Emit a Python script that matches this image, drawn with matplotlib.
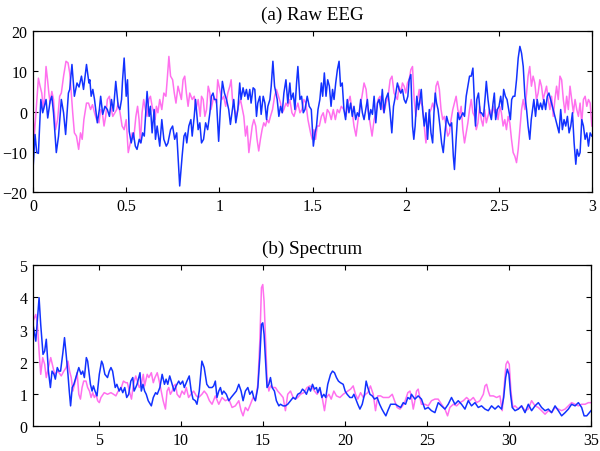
import numpy as np
import matplotlib
matplotlib.use("Agg")
import matplotlib.pyplot as plt

plt.rcParams['font.family'] = ['Liberation Serif', 'DejaVu Serif']
plt.rcParams['font.size'] = 11.5

BLUE = '#1232ff'
PINK = '#ff70ee'

# (a) raw EEG, seconds / microvolts
eeg_t_blue = [
    0.000,0.011,0.020,0.029,0.042,0.052,0.061,0.070,0.079,0.092,
    0.101,0.110,0.125,0.137,0.152,0.164,0.175,0.190,0.197,0.209,
    0.222,0.236,0.247,0.260,0.271,0.287,0.300,0.305,0.312,0.321,
    0.330,0.345,0.356,0.363,0.374,0.386,0.399,0.410,0.421,0.431,
    0.444,0.457,0.466,0.475,0.480,0.489,0.500,0.507,0.516,0.527,
    0.538,0.549,0.558,0.570,0.579,0.588,0.597,0.612,0.623,0.630,
    0.639,0.650,0.657,0.666,0.680,0.691,0.702,0.715,0.724,0.738,
    0.749,0.760,0.771,0.787,0.800,0.810,0.818,0.825,0.836,0.847,
    0.854,0.865,0.872,0.886,0.895,0.904,0.915,0.926,0.937,0.949,
    0.957,0.966,0.973,0.984,0.996,1.005,1.016,1.027,1.038,1.050,
    1.059,1.070,1.077,1.088,1.099,1.109,1.116,1.127,1.136,1.145,
    1.154,1.163,1.170,1.181,1.190,1.199,1.206,1.217,1.224,1.235,
    1.244,1.253,1.260,1.271,1.278,1.287,1.296,1.303,1.310,1.319,
    1.328,1.337,1.346,1.357,1.367,1.378,1.385,1.396,1.405,1.414,
    1.421,1.432,1.441,1.450,1.459,1.471,1.482,1.493,1.504,1.513,
    1.521,1.529,1.539,1.547,1.554,1.563,1.572,1.581,1.590,1.599,
    1.607,1.615,1.624,1.633,1.642,1.650,1.659,1.668,1.677,1.686,
    1.695,1.704,1.713,1.722,1.731,1.740,1.749,1.758,1.767,1.776,
    1.785,1.794,1.803,1.812,1.821,1.830,1.839,1.848,1.857,1.866,
    1.874,1.883,1.892,1.905,1.916,1.925,1.934,1.941,
    1.955,1.964,1.973,1.982,1.991,2.000,2.011,2.018,2.027,2.036,
    2.043,2.050,2.059,2.068,2.076,2.083,2.090,2.099,2.108,2.117,
    2.126,2.135,2.144,2.151,2.158,2.165,2.173,2.183,2.192,2.201,
    2.210,2.219,2.228,2.237,2.246,2.255,2.261,2.270,2.279,2.288,
    2.297,2.306,2.315,2.324,2.333,2.342,2.351,2.360,2.367,2.374,
    2.381,2.390,2.399,2.406,2.417,2.426,2.432,2.441,2.450,2.459,
    2.468,2.475,2.482,2.491,2.500,2.509,2.518,2.525,2.534,2.543,
    2.552,2.561,2.568,2.576,2.585,2.594,2.603,2.612,2.621,2.630,
    2.639,2.648,2.656,2.665,2.673,2.680,2.687,2.696,2.705,2.714,
    2.723,2.732,2.741,2.750,2.759,2.768,2.777,2.786,2.795,2.804,
    2.813,2.822,2.831,2.840,2.849,2.858,2.867,2.876,2.885,2.894,
    2.903,2.912,2.919,2.928,2.935,2.944,2.953,2.962,2.971,2.980,
    2.989,2.998]
eeg_blue = [
    -14.4,-5.7,-10.2,-10.4,3.0,-0.3,1.3,3.0,-1.6,2.6,
    3.8,-0.3,-10.2,-6.1,3.0,-0.3,-5.7,4.6,5.5,11.7,
    3.8,7.1,6.1,8.8,5.5,11.7,7.1,7.9,3.8,5.5,
    3.0,-2.8,0.5,3.8,-0.7,1.3,0.5,-1.2,3.0,0.1,
    7.5,1.3,0.5,3.0,7.5,13.3,3.8,7.9,-4.9,-7.8,
    -5.3,-8.6,-9.4,-6.9,-7.8,-5.3,-6.1,5.0,-1.2,1.3,
    -5.3,0.5,-6.9,-3.6,-8.6,-2.0,-6.9,-8.6,-7.8,-4.5,
    -3.6,-6.9,-5.3,-18.5,-11.1,-6.1,-5.3,-7.8,-3.6,-2.0,
    -6.1,-1.2,3.0,-4.5,-2.8,-7.8,-6.9,-2.8,-4.5,-0.3,
    3.8,4.6,3.0,3.0,-7.4,0.5,7.5,4.6,3.0,0.5,
    -3.2,0.5,3.0,-2.8,0.5,7.1,3.0,5.9,3.8,5.5,
    3.0,5.5,2.1,5.9,5.5,-1.2,2.1,3.8,-0.7,3.8,
    2.1,-2.0,1.3,3.0,6.3,12.5,6.3,4.6,3.0,-1.2,
    1.3,-0.3,4.6,7.9,2.1,7.1,3.0,4.6,0.5,7.1,
    11.2,3.0,3.8,-0.3,0.5,3.8,1.3,0.5,-8.6,-5.3,
    -3.6,0.5,3.0,7.1,3.8,9.6,3.8,7.9,6.3,1.3,
    5.5,3.0,7.1,10.4,12.5,6.3,7.1,0.5,-2.0,3.0,
    -0.3,2.1,-1.2,1.3,-2.0,-0.3,-1.2,3.0,-0.3,-2.0,
    0.5,3.0,-2.0,0.5,-0.7,3.8,-2.8,2.1,3.0,0.5,
    5.5,-0.3,3.0,4.6,-0.3,-5.3,1.3,3.0,
    7.1,5.5,4.6,5.5,3.0,2.1,3.8,7.9,9.2,-3.6,
    -6.9,-3.6,3.8,0.5,3.0,5.5,0.5,-3.6,-0.3,-6.9,
    0.5,-5.3,-7.8,-0.3,4.6,2.1,0.5,-3.6,-7.8,-10.2,
    -5.3,-1.2,-2.8,-3.6,-2.8,-11.1,-14.4,-6.9,-0.3,-2.0,
    -1.2,-0.3,-1.2,3.8,6.3,8.8,8.8,10.8,3.8,-3.6,
    3.0,4.6,-0.3,-0.3,-1.2,3.8,7.5,3.0,-0.3,-2.0,
    2.1,4.6,-2.0,0.5,1.3,3.8,0.5,5.5,3.8,3.0,
    0.5,-2.0,3.0,3.8,3.8,7.9,13.3,16.2,14.5,11.2,
    3.8,0.5,-3.6,-6.9,-2.0,0.5,3.0,-1.2,3.0,0.5,
    2.1,0.5,3.0,0.5,3.8,4.6,3.0,1.3,-0.3,-2.0,
    -3.6,-5.3,0.5,-4.5,-2.0,-3.6,-1.2,-5.3,-3.6,-0.3,
    -7.8,-13.1,-9.4,-11.1,-10.2,-2.0,-3.6,-6.9,-5.3,-8.6,
    -5.3,-6.1]

eeg_t_pink = [
    0.000,0.007,0.029,0.038,0.047,0.056,0.061,0.070,0.078,0.085,
    0.092,0.101,0.110,0.121,0.132,0.143,0.152,0.164,0.177,0.188,
    0.197,0.204,0.213,0.222,0.233,0.245,0.255,0.264,0.273,0.287,
    0.298,0.309,0.319,0.330,0.341,0.354,0.363,0.372,0.381,0.390,
    0.399,0.410,0.417,0.428,0.439,0.449,0.457,0.467,0.478,0.489,
    0.500,0.511,0.522,0.532,0.540,0.552,0.561,0.569,0.576,0.585,
    0.594,0.603,0.612,0.621,0.630,0.639,0.648,0.655,0.662,0.670,
    0.680,0.691,0.702,0.713,0.720,0.729,0.738,0.749,0.758,0.767,
    0.778,0.787,0.796,0.805,0.814,0.823,0.832,0.841,0.854,0.865,
    0.874,0.886,0.897,0.904,0.913,0.922,0.931,0.940,0.949,
    0.955,0.970,0.984,0.991,1.002,1.013,1.023,1.034,1.045,1.056,
    1.063,1.070,1.081,1.091,1.102,1.113,1.124,1.131,1.140,1.149,
    1.158,1.167,1.176,1.185,1.195,1.202,1.211,1.220,1.229,1.238,
    1.247,1.256,1.265,1.274,1.285,1.296,1.306,1.317,1.328,1.337,
    1.346,1.357,1.367,1.378,1.389,1.400,1.410,1.421,1.432,1.443,
    1.453,1.464,1.475,1.489,1.498,1.507,1.516,1.525,1.536,1.547,
    1.557,1.568,1.579,1.590,1.600,1.611,1.622,1.633,1.643,1.654,
    1.668,1.679,1.690,1.701,1.711,1.722,1.733,1.744,1.754,1.765,
    1.776,1.787,1.797,1.808,1.819,1.830,1.840,1.851,1.862,1.873,
    1.883,1.894,1.905,1.916,1.926,1.937,
    1.955,1.964,1.973,1.982,1.991,2.000,2.009,2.018,2.027,2.036,
    2.045,2.054,2.063,2.072,2.081,2.090,2.099,2.108,2.117,2.126,
    2.135,2.144,2.153,2.162,2.171,2.180,2.189,2.198,2.207,2.216,
    2.225,2.234,2.243,2.252,2.261,2.270,2.279,2.288,2.297,2.306,
    2.315,2.324,2.333,2.342,2.351,2.360,2.369,2.378,2.387,2.396,
    2.405,2.414,2.423,2.432,2.441,2.450,2.459,2.468,2.477,2.486,
    2.495,2.504,2.513,2.522,2.531,2.540,2.549,2.558,2.567,2.576,
    2.585,2.594,2.603,2.612,2.621,2.630,2.639,2.648,2.656,2.665,
    2.674,2.683,2.692,2.701,2.710,2.719,2.728,2.737,2.746,2.755,
    2.764,2.773,2.782,2.791,2.800,2.809,2.818,2.827,2.836,2.845,
    2.854,2.863,2.872,2.881,2.890,2.899,2.908,2.917,2.926,2.935,
    2.944,2.953,2.962,2.971,2.980,2.989,2.998]
eeg_pink = [
    -1.2,-6.1,8.3,6.3,4.6,0.5,3.0,11.2,7.9,4.6,
    2.1,5.0,3.0,-4.5,-2.0,3.8,4.6,8.8,12.5,12.1,
    9.6,5.5,-0.3,-5.3,-6.1,-9.4,-5.3,-6.9,-2.0,2.1,
    2.1,0.5,1.7,-0.3,-2.0,-2.8,0.5,-0.3,-3.6,-1.2,
    3.0,3.8,1.3,-1.2,-0.3,0.5,2.1,-0.3,-3.6,-4.5,
    -2.0,-10.2,-7.8,-5.3,-6.9,-1.2,1.3,-2.0,-7.8,-0.3,
    3.0,0.5,-1.2,3.0,3.8,1.3,-0.3,-2.0,1.3,-0.3,
    3.0,0.5,4.6,3.8,7.9,13.7,8.8,7.9,4.6,2.1,
    6.3,4.6,3.0,7.9,8.8,4.6,1.3,4.6,3.0,3.8,
    0.5,3.0,-1.2,3.8,3.0,-1.2,0.5,6.3,4.6,
    0.5,3.8,2.1,7.9,5.5,3.0,3.8,1.3,4.6,6.3,
    7.9,3.0,0.5,-1.2,1.3,3.0,0.5,-1.2,-6.1,-3.6,
    -10.2,-6.9,-3.6,-2.0,-3.6,-6.9,-9.8,-6.9,-4.5,-2.8,
    -3.6,-2.0,-2.8,-1.2,0.5,3.8,5.5,3.8,2.1,-0.3,
    0.5,2.1,1.3,3.0,-0.3,-1.2,0.5,2.1,-0.3,0.5,
    3.0,2.1,-2.0,-5.3,-6.9,-4.5,-6.9,-3.6,-3.6,-1.2,
    -0.3,-2.8,0.5,-0.3,-2.0,0.5,-2.0,0.5,-0.3,1.3,
    0.5,-1.2,2.1,3.8,0.5,-3.6,-6.1,-2.0,1.3,3.8,
    7.1,5.5,0.5,-2.8,-6.1,-2.0,-0.3,3.0,3.8,1.3,
    -0.3,2.1,3.8,7.9,8.8,4.6,
    3.0,6.3,4.6,7.1,6.3,4.6,7.1,7.9,10.4,11.2,
    3.0,-1.2,3.0,5.5,2.1,1.3,-3.6,-7.8,-3.6,-0.3,
    0.5,2.1,0.5,6.3,7.5,5.5,0.5,-2.0,-1.2,-3.6,
    -6.1,-5.3,-2.0,0.5,2.1,3.8,0.5,-1.2,1.3,-4.5,
    -7.8,-5.3,-2.8,0.5,3.0,-0.3,-1.2,-4.5,-2.8,1.3,
    -2.0,-3.6,0.5,-2.8,-1.2,0.5,-1.2,1.3,-0.3,0.5,
    -2.0,1.3,-0.3,-3.6,-2.0,-4.5,-1.2,-2.8,-6.9,-10.2,
    -11.1,-12.7,-9.4,-4.5,0.5,3.0,0.5,4.6,8.8,11.2,
    6.3,8.8,7.1,3.0,4.6,7.9,6.3,3.0,4.6,6.3,
    3.0,0.5,3.8,-1.2,3.0,6.3,3.0,8.8,7.9,3.0,
    -0.3,3.8,0.5,6.3,3.0,-0.3,3.0,0.5,-1.2,2.1,
    -2.8,3.0,3.8,1.3,3.0,2.1,-3.6]

# (b) spectrum, Hz / amplitude
spec_f_blue = [
    1.00,1.17,1.37,1.47,1.61,1.71,1.81,1.94,2.06,2.16,
    2.28,2.36,2.48,2.58,2.68,2.82,2.92,3.02,3.13,3.21,
    3.29,3.39,3.49,3.61,3.79,3.93,4.03,4.13,4.25,4.33,
    4.50,4.60,4.68,4.78,4.90,5.04,5.18,5.26,5.38,5.54,
    5.65,5.75,5.85,6.01,6.11,6.25,6.35,6.47,6.59,6.71,
    6.83,6.96,7.08,7.16,7.26,7.34,7.52,7.60,7.70,7.80,
    7.90,8.02,8.21,8.33,8.47,8.57,8.73,8.87,9.01,9.11,
    9.21,9.33,9.48,9.60,9.72,9.88,9.98,10.12,10.22,10.38,
    10.52,10.64,10.75,10.89,10.99,11.13,11.29,11.43,11.59,11.73,
    11.91,12.01,12.11,12.21,12.32,12.42,12.52,12.62,12.78,12.93,
    13.07,13.23,13.39,13.54,13.68,13.80,13.94,14.09,14.21,14.35,
    14.45,14.55,14.70,14.82,14.92,15.00,15.08,15.18,15.26,15.37,
    15.47,15.57,15.71,15.83,15.98,16.08,16.24,16.38,16.52,16.69,
    16.85,16.99,17.13,17.30,17.42,17.54,17.66,17.81,17.91,18.03,
    18.15,18.27,18.35,18.48,18.60,18.72,18.84,18.96,19.13,19.25,
    19.37,19.49,19.61,19.73,19.90,20.02,20.14,20.31,20.45,20.55,
    20.67,20.79,20.92,21.06,21.20,21.30,21.40,21.53,21.67,21.81,
    21.97,22.12,22.26,22.38,22.50,22.62,22.79,22.95,23.09,23.23,
    23.40,23.56,23.70,23.84,23.97,
    24.06,24.27,24.47,24.67,24.88,25.08,25.28,25.49,25.69,25.89,
    26.10,26.30,26.50,26.71,26.91,27.11,27.32,27.52,27.72,27.93,
    28.13,28.33,28.54,28.74,28.94,29.15,29.35,29.55,29.68,29.80,
    29.90,30.00,30.10,30.20,30.37,30.57,30.77,30.98,31.18,31.38,
    31.59,31.79,31.99,32.20,32.40,32.60,32.81,33.01,33.21,33.42,
    33.62,33.82,34.03,34.23,34.43,34.58,34.74,35.00]
spec_blue = [
    3.16,2.64,3.99,3.16,2.23,2.33,2.70,1.71,1.20,1.71,
    1.61,1.46,1.82,1.71,1.71,2.28,2.75,2.23,1.61,1.09,
    0.63,1.20,1.30,1.51,1.82,1.61,1.71,1.51,2.13,2.02,
    1.30,1.09,1.25,1.09,0.94,1.61,2.02,1.92,1.61,1.51,
    1.71,1.82,1.71,1.20,1.30,1.09,1.20,1.04,1.20,0.89,
    0.99,1.40,1.51,1.09,1.20,1.30,1.66,1.09,1.30,1.09,
    0.99,0.79,0.63,0.89,1.04,0.99,1.20,1.61,1.30,1.46,
    1.30,1.56,1.30,1.09,1.25,1.40,1.30,1.40,1.20,1.40,
    1.56,1.09,0.84,0.79,0.68,1.09,2.02,1.82,1.30,1.20,
    1.20,1.25,1.40,0.89,1.09,1.20,0.99,1.09,0.99,0.79,
    0.89,0.99,1.09,1.30,1.09,0.79,1.09,1.20,0.99,1.09,
    0.89,0.79,1.20,2.13,3.16,3.21,2.85,1.92,1.20,1.30,
    1.51,1.20,1.09,0.79,0.63,0.68,0.63,0.63,0.68,0.79,
    0.89,0.84,0.99,1.04,1.15,1.09,0.99,1.20,1.09,1.30,
    1.15,1.20,1.04,1.20,0.89,0.99,0.89,1.30,1.61,1.71,
    1.66,1.51,1.40,1.35,1.30,1.09,0.99,0.89,0.89,0.99,
    0.84,0.68,0.53,0.68,0.99,1.40,1.20,0.99,0.94,0.84,
    0.89,0.68,0.53,0.42,0.32,0.48,0.68,0.68,0.68,0.63,
    0.58,0.73,0.68,0.89,0.84,
    0.99,0.84,0.94,0.84,0.53,0.58,0.48,0.42,0.73,0.63,
    0.53,0.68,0.89,0.68,0.79,0.68,0.53,0.79,0.63,0.73,
    0.58,0.63,0.53,0.48,0.63,0.53,0.63,0.53,0.89,1.51,
    1.77,1.61,0.99,0.58,0.48,0.53,0.63,0.42,0.68,0.48,
    0.63,0.73,0.58,0.48,0.53,0.42,0.63,0.48,0.32,0.42,
    0.53,0.68,0.63,0.73,0.58,0.32,0.32,0.48]

spec_f_pink = [
    1.00,1.17,1.27,1.37,1.47,1.59,1.71,1.81,1.94,2.08,
    2.22,2.32,2.52,2.72,2.88,3.02,3.13,3.23,3.33,3.43,
    3.53,3.63,3.69,3.79,3.89,3.99,4.09,4.23,4.33,4.44,
    4.54,4.64,4.74,4.84,4.94,5.04,5.14,5.34,5.54,5.75,
    5.91,6.05,6.19,6.35,6.51,6.65,6.75,6.87,7.00,7.12,
    7.26,7.36,7.48,7.60,7.72,7.80,7.96,8.06,8.21,8.33,
    8.43,8.57,8.69,8.81,8.93,9.07,9.17,9.27,9.37,9.48,
    9.58,9.68,9.78,9.94,10.08,10.22,10.34,10.48,10.62,10.79,
    10.95,11.09,11.29,11.43,11.59,11.75,
    11.91,12.11,12.32,12.52,12.72,12.93,13.13,13.33,13.54,13.68,
    13.80,13.94,14.09,14.25,14.41,14.55,14.70,14.82,14.92,15.00,
    15.08,15.18,15.26,15.37,15.47,15.63,15.77,15.91,16.08,16.24,
    16.38,16.52,16.69,16.85,16.99,17.13,17.30,17.50,17.70,17.87,
    18.01,18.15,18.31,18.48,18.62,18.76,18.88,19.03,19.17,19.33,
    19.49,19.70,19.90,20.04,20.18,20.35,20.51,20.65,20.79,20.96,
    21.12,21.26,21.40,21.56,21.73,21.87,22.01,22.18,22.34,22.50,
    22.68,22.89,23.03,23.19,23.36,23.52,23.68,23.84,23.97,
    24.06,24.17,24.27,24.37,24.47,24.57,24.67,24.88,25.08,25.28,
    25.49,25.69,25.89,26.10,26.26,26.40,26.61,26.81,27.01,27.22,
    27.42,27.62,27.83,28.03,28.23,28.44,28.54,28.64,28.74,28.84,
    29.05,29.25,29.45,29.59,29.72,29.82,29.92,30.02,30.12,30.24,
    30.37,30.57,30.77,30.98,31.18,31.38,31.59,31.79,31.99,32.20,
    32.40,32.60,32.81,33.01,33.21,33.42,33.62,33.82,34.03,34.23,
    34.43,34.64,34.84,35.00]
spec_pink = [
    3.26,3.47,3.16,2.33,1.61,2.13,1.92,1.51,1.82,2.13,
    1.82,1.61,1.71,1.56,1.71,1.82,2.02,1.71,1.51,1.09,
    1.30,1.51,1.66,0.99,0.84,1.20,1.40,1.40,1.20,1.09,
    0.89,1.04,0.89,0.99,0.79,0.73,0.89,1.04,0.99,1.04,
    0.99,0.94,1.09,1.15,1.40,1.35,1.35,1.09,0.84,1.30,
    1.56,1.40,1.20,1.30,1.61,1.25,1.61,1.51,1.66,1.35,
    1.51,1.66,1.40,1.09,0.79,0.53,1.09,1.20,0.99,1.09,
    1.25,1.30,0.99,0.89,1.09,0.99,1.20,0.89,0.99,1.09,
    0.94,0.89,0.99,1.09,0.99,0.79,
    0.68,0.94,0.68,0.89,0.79,0.84,0.58,0.63,0.79,0.48,
    0.32,0.58,0.48,0.68,0.89,0.79,1.30,2.64,4.30,4.40,
    3.88,2.54,1.51,1.09,1.25,1.20,1.20,1.09,0.99,0.89,
    0.48,0.99,1.09,0.89,0.84,0.89,0.99,1.04,1.20,1.25,
    1.20,1.09,0.99,1.15,0.89,0.48,0.89,0.99,0.84,1.09,
    0.94,0.89,0.99,1.04,1.09,1.15,1.25,0.99,0.84,1.04,
    0.89,0.99,1.04,1.25,0.99,0.48,0.94,0.94,0.89,0.89,
    0.89,0.99,0.79,0.58,0.53,0.63,0.79,1.04,1.09,
    0.89,0.53,0.79,1.09,1.15,0.89,0.68,0.68,0.63,0.79,
    0.84,0.84,0.68,0.53,0.32,0.58,0.68,0.63,0.73,0.79,
    0.89,0.79,0.89,0.73,0.79,0.99,1.25,1.30,1.09,0.94,
    0.94,0.89,0.94,0.48,1.30,1.92,2.02,1.92,1.09,0.58,
    0.63,0.53,0.63,0.48,0.53,0.79,0.63,0.58,0.48,0.37,
    0.48,0.42,0.58,0.53,0.48,0.53,0.63,0.73,0.68,0.63,
    0.68,0.68,0.73,0.73]


def style_axes(ax):
    ax.tick_params(direction='in', top=True, right=True, length=3.5, width=0.8, pad=4)
    for s in ax.spines.values():
        s.set_linewidth(0.9)


fig = plt.figure(figsize=(6.0, 4.52), dpi=100)
ax1 = fig.add_axes([0.055, 0.573, 0.932, 0.356])
ax2 = fig.add_axes([0.055, 0.055, 0.930, 0.356])

ax1.plot(eeg_t_pink, eeg_pink, color=PINK, lw=1.1)
ax1.plot(eeg_t_blue, eeg_blue, color=BLUE, lw=1.1)
ax1.set_xlim(0, 3)
ax1.set_ylim(-20, 20)
ax1.set_xticks([0, 0.5, 1, 1.5, 2, 2.5, 3])
ax1.set_xticklabels(['0', '0.5', '1', '1.5', '2', '2.5', '3'])
ax1.set_yticks([-20, -10, 0, 10, 20])
ax1.set_title('(a) Raw EEG', pad=9)
style_axes(ax1)

ax2.plot(spec_f_pink, spec_pink, color=PINK, lw=1.1)
ax2.plot(spec_f_blue, spec_blue, color=BLUE, lw=1.1)
ax2.set_xlim(1, 35)
ax2.set_ylim(0, 5)
ax2.set_xticks([5, 10, 15, 20, 25, 30, 35])
ax2.set_yticks([0, 1, 2, 3, 4, 5])
ax2.set_title('(b) Spectrum', pad=9)
style_axes(ax2)

fig.savefig('out.png', dpi=100)
